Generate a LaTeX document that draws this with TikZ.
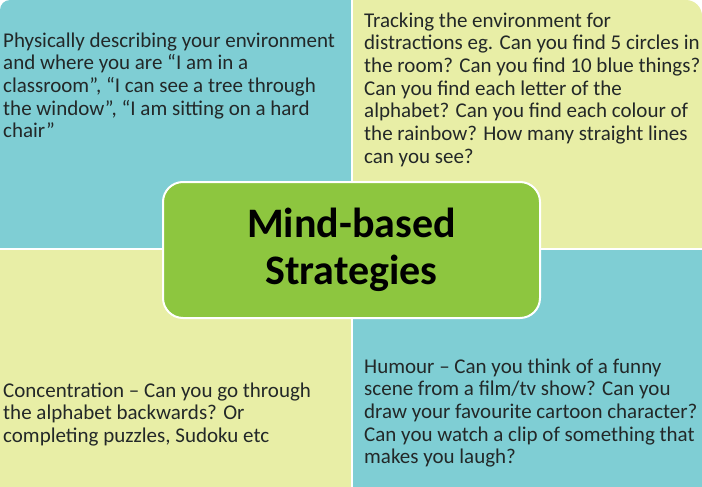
\documentclass[tikz,border=0pt]{standalone}
\usepackage{fontspec}
\setmainfont{Carlito}
\usetikzlibrary{positioning}
\definecolor{quadteal}{RGB}{127,206,212}
\definecolor{quadyellow}{RGB}{232,238,166}
\definecolor{centregreen}{RGB}{141,198,63}
\definecolor{textgrey}{RGB}{35,40,40}

\begin{document}
\begin{tikzpicture}[x=1pt,y=-1pt,
    info/.style={anchor=base west,inner sep=0pt,align=left,text=textgrey,
        font=\fontsize{21}{22.7}\selectfont},
    title/.style={draw=white,line width=2pt,fill=centregreen,rounded corners=20pt,
        minimum width=377pt,minimum height=136pt,align=center,
        font=\fontsize{42}{47}\selectfont\bfseries}]
            \useasboundingbox (0,0) rectangle (702,487);
            \fill[white] (0,0) rectangle (702,487);
            % quadrants
            \fill[quadteal] (0,249) -- (0,10) arc[start angle=180,end angle=270,radius=10]
                -- (352,0) -- (352,249) -- cycle;
            \fill[quadyellow] (352,0) -- (686,0) arc[start angle=270,end angle=360,radius=16]
                -- (702,249) -- (352,249) -- cycle;
            \fill[quadyellow] (0,249) rectangle (352,487);
            \fill[quadteal] (352,249) rectangle (702,487);
            \draw[white,line width=2pt] (352,0) -- (352,487) (0,249) -- (702,249);
            % texts (placed by the baseline of their last line)
            \node[info](physical) at (3,137.8) {Physically describing your environment\\
                and where you are “I am in a\\
                classroom”, “I can see a tree through\\
                the window”, “I am sitting on a hard\\
                chair”};
            \node[info](tracking) at (364,163.2) {Tracking the environment for\\
                distractions eg. Can you find 5 circles in\\
                the room? Can you find 10 blue things?\\
                Can you find each letter of the\\
                alphabet? Can you find each colour of\\
                the rainbow? How many straight lines\\
                can you see?};
            \node[info](concentration) at (3,442.4) {Concentration – Can you go through\\
                the alphabet backwards? Or\\
                completing puzzles, Sudoku etc};
            \node[info](humour) at (364,463.8) {Humour – Can you think of a funny\\
                scene from a film/tv show? Can you\\
                draw your favourite cartoon character?\\
                Can you watch a clip of something that\\
                makes you laugh?};
            \node[title](strategies) at (351.5,250) {Mind-based\\Strategies};
        \end{tikzpicture}
\end{document}
